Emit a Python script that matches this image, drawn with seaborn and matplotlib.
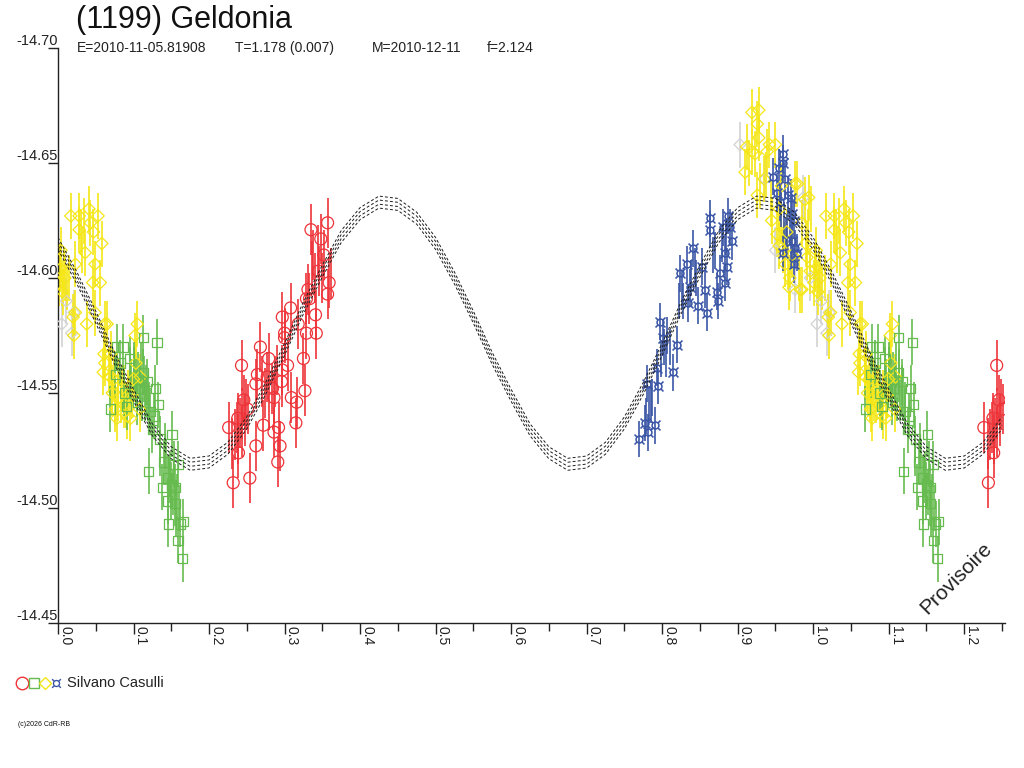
import numpy as np
import pandas as pd
import matplotlib
matplotlib.use("Agg")
import matplotlib.pyplot as plt
import seaborn as sns
from matplotlib.lines import Line2D
from matplotlib.ticker import MultipleLocator, FixedLocator

# =====================================================
# DATA
# =====================================================

# model curve + its uncertainty band
curve_phase = [i * 0.025 for i in range(51)]
curve_mag = [
    -14.615, -14.600, -14.583, -14.565, -14.549, -14.534, -14.524, -14.519, -14.520, -14.526,
    -14.537, -14.552, -14.569, -14.587, -14.603, -14.618, -14.628, -14.633, -14.632, -14.626,
    -14.615, -14.600, -14.583, -14.565, -14.549, -14.534, -14.524, -14.519, -14.520, -14.526,
    -14.537, -14.552, -14.569, -14.587, -14.603, -14.618, -14.628, -14.633, -14.632, -14.626,
    -14.615, -14.600, -14.583, -14.565, -14.549, -14.534, -14.524, -14.519, -14.520, -14.526,
    -14.537,
]
curve_offsets = [-0.0026, -0.0009, 0.0009, 0.0026]

# session 1 : red circles
red_phase = [0.243, 0.232, 0.254, 0.268, 0.264, 0.262, 0.272, 0.279, 0.286, 0.291,
             0.294, 0.292, 0.296, 0.297, 0.300, 0.308, 0.309, 0.315, 0.316, 0.318,
             0.325, 0.327, 0.329, 0.329, 0.331, 0.335, 0.341, 0.342, 0.345, 0.348,
             0.357, 0.359, 0.357, 0.333, 0.304, 0.297, 0.277, 0.262, 0.226, 0.238,
             0.239, 0.246, 0.251, 0.284, 0.286, 0.300, 0.352]
red_mag = [-14.562, -14.511, -14.513, -14.570, -14.558, -14.527, -14.536, -14.565, -14.533, -14.520,
           -14.527, -14.535, -14.555, -14.583, -14.576, -14.587, -14.548, -14.537, -14.546, -14.580,
           -14.565, -14.551, -14.576, -14.591, -14.595, -14.621, -14.584, -14.576, -14.603, -14.617,
           -14.624, -14.598, -14.593, -14.591, -14.562, -14.560, -14.557, -14.554, -14.535, -14.539,
           -14.524, -14.547, -14.543, -14.552, -14.548, -14.574, -14.610]
red_bar_phase = [0.231, 0.234, 0.237, 0.239, 0.241, 0.243, 0.244, 0.247, 0.249, 0.270,
                 0.274, 0.280, 0.288, 0.290, 0.336, 0.338, 0.340, 0.344, 0.350, 0.361]
red_bar_mag = [-14.528, -14.532, -14.535, -14.530, -14.537, -14.541, -14.533, -14.538, -14.545, -14.555,
               -14.550, -14.545, -14.555, -14.560, -14.605, -14.610, -14.600, -14.612, -14.600, -14.602]

# session 2 : green squares
green_phase = [0.131, 0.086, 0.113, 0.082, 0.113, 0.129, 0.133, 0.122, 0.125, 0.135,
               0.151, 0.120, 0.138, 0.145, 0.155, 0.145, 0.155, 0.146, 0.162, 0.166,
               0.159, 0.165, 0.153, 0.159, 0.076, 0.069, 0.091, 0.105, 0.078, 0.095,
               0.108, 0.118, 0.127, 0.140, 0.150, 0.088]
green_mag = [-14.572, -14.570, -14.574, -14.563, -14.559, -14.552, -14.545, -14.542, -14.534, -14.530,
             -14.532, -14.516, -14.509, -14.513, -14.509, -14.503, -14.502, -14.493, -14.493, -14.494,
             -14.486, -14.478, -14.519, -14.519, -14.558, -14.543, -14.544, -14.546, -14.570, -14.565,
             -14.552, -14.555, -14.540, -14.520, -14.510, -14.550]
green_bar_phase = [0.095, 0.097, 0.100, 0.101, 0.103, 0.104, 0.106, 0.109, 0.110, 0.111,
                   0.114, 0.115, 0.117, 0.119, 0.121, 0.135, 0.142, 0.143, 0.147, 0.148,
                   0.149, 0.152, 0.156, 0.157, 0.160]
green_bar_mag = [-14.560, -14.555, -14.560, -14.562, -14.555, -14.550, -14.558, -14.553, -14.562, -14.548,
                 -14.556, -14.548, -14.552, -14.548, -14.545, -14.524, -14.527, -14.520, -14.512, -14.515,
                 -14.505, -14.507, -14.498, -14.505, -14.500]

# session 3 : yellow diamonds
yellow_phase = [0.004, 0.001, 0.003, 0.006, 0.009, 0.017, 0.020, 0.023, 0.023, 0.028,
                0.028, 0.021, 0.036, 0.041, 0.043, 0.047, 0.049, 0.046, 0.053, 0.056,
                0.058, 0.038, 0.049, 0.062, 0.065, 0.061, 0.062, 0.060, 0.069, 0.070,
                0.072, 0.074, 0.076, 0.078, 0.080, 0.085, 0.088, 0.092, 0.096, 0.098,
                0.100, 0.102, 0.105, 0.103, 0.108, 0.109,
                0.912, 0.910, 0.919, 0.919, 0.923, 0.926, 0.928, 0.928, 0.926, 0.935,
                0.939, 0.942, 0.950, 0.952, 0.955, 0.955, 0.960, 0.963, 0.968, 0.969,
                0.976, 0.979, 0.983, 0.985, 0.985, 0.989, 0.992, 0.994, 0.996, 0.945,
                0.958, 0.972, 0.965, 0.990]
yellow_mag = [-14.612, -14.598, -14.604, -14.594, -14.600, -14.627, -14.583, -14.606, -14.585, -14.627,
              -14.621, -14.575, -14.611, -14.630, -14.624, -14.620, -14.606, -14.598, -14.627, -14.598,
              -14.615, -14.580, -14.585, -14.580, -14.580, -14.567, -14.563, -14.559, -14.557, -14.567,
              -14.550, -14.556, -14.543, -14.539, -14.548, -14.552, -14.545, -14.540, -14.539, -14.549,
              -14.556, -14.575, -14.580, -14.563, -14.543, -14.557,
              -14.657, -14.646, -14.655, -14.672, -14.654, -14.667, -14.673, -14.661, -14.636, -14.643,
              -14.655, -14.658, -14.658, -14.619, -14.614, -14.630, -14.612, -14.606, -14.596, -14.600,
              -14.641, -14.641, -14.595, -14.624, -14.595, -14.634, -14.609, -14.635, -14.603, -14.625,
              -14.640, -14.610, -14.620, -14.615]
yellow_bar_phase = [0.002, 0.005, 0.008, 0.012, 0.015, 0.030, 0.032, 0.034, 0.068, 0.071,
                    0.075, 0.079, 0.083, 0.087, 0.090, 0.093, 0.915, 0.930, 0.938, 0.944,
                    0.957, 0.962, 0.966, 0.981, 0.993, 0.997]
yellow_bar_mag = [-14.605, -14.598, -14.603, -14.596, -14.600, -14.620, -14.612, -14.625, -14.560, -14.552,
                  -14.548, -14.555, -14.547, -14.552, -14.545, -14.550, -14.650, -14.640, -14.645, -14.632,
                  -14.625, -14.615, -14.605, -14.600, -14.620, -14.630]

# session 4 : blue crossed squares
blue_phase = [0.781, 0.777, 0.791, 0.780, 0.793, 0.795, 0.815, 0.801, 0.820, 0.797,
              0.833, 0.841, 0.824, 0.837, 0.834, 0.853, 0.857, 0.860, 0.848, 0.864,
              0.864, 0.873, 0.874, 0.877, 0.883, 0.886, 0.883, 0.881, 0.890, 0.892,
              0.887, 0.947, 0.960, 0.960, 0.963, 0.952, 0.956, 0.970, 0.972, 0.972,
              0.976, 0.974, 0.960, 0.967, 0.979, 0.975, 0.770, 0.955]
blue_mag = [-14.533, -14.537, -14.536, -14.554, -14.561, -14.553, -14.559, -14.574, -14.571, -14.581,
            -14.606, -14.613, -14.602, -14.596, -14.589, -14.605, -14.595, -14.585, -14.588, -14.626,
            -14.621, -14.594, -14.590, -14.602, -14.611, -14.605, -14.598, -14.622, -14.622, -14.616,
            -14.627, -14.644, -14.654, -14.650, -14.643, -14.637, -14.633, -14.635, -14.628, -14.616,
            -14.613, -14.606, -14.611, -14.636, -14.611, -14.625, -14.530, -14.648]
blue_bar_phase = [0.779, 0.783, 0.785, 0.787, 0.799, 0.803, 0.805, 0.806, 0.810, 0.822,
                  0.826, 0.828, 0.838, 0.843, 0.845, 0.868, 0.870, 0.879, 0.885, 0.958,
                  0.961, 0.964, 0.965, 0.969, 0.971]
blue_bar_mag = [-14.540, -14.545, -14.545, -14.548, -14.565, -14.570, -14.565, -14.575, -14.570, -14.590,
                -14.595, -14.590, -14.600, -14.605, -14.600, -14.610, -14.612, -14.615, -14.618, -14.630,
                -14.625, -14.618, -14.620, -14.622, -14.612]

# rejected points : light grey diamonds
grey_phase = [0.011, 0.021, 0.018, 0.005, 0.903, 0.936, 0.987, 0.976, 0.950, 0.996]
grey_mag = [-14.590, -14.585, -14.576, -14.580, -14.658, -14.643, -14.635, -14.595, -14.612, -14.600]

# error bar half-lengths per session
red_err = 0.011
green_err = 0.010
yellow_err = 0.010
blue_err = 0.008
grey_err = 0.010

x_max = 1.254

# header texts
title = "(1199) Geldonia"
header_items = ["E=2010-11-05.81908", "T=1.178 (0.007)", "M=2010-12-11", "f=2.124"]
observer = "Silvano Casulli"

# =====================================================
# PLOT
# =====================================================

sns.set_style("white")
plt.rcParams['font.family'] = ['Liberation Sans', 'DejaVu Sans']
plt.rcParams['mathtext.fontset'] = 'dejavusans'

RED, GREEN, YELLOW, BLUE, GREY = "#ee3338", "#66bb4f", "#f5e617", "#3b56a6", "#d2d2d2"


def fold(phase, mag):
    # points of the first quarter are shown again after phase 1.0
    df = pd.DataFrame({"phase": phase, "mag": mag})
    extra = df[df.phase < x_max - 1].copy()
    extra["phase"] = extra["phase"] + 1
    return pd.concat([df, extra], ignore_index=True)


fig = plt.figure(figsize=(10.24, 7.68), dpi=100)
ax = fig.add_axes([58/1024, 1-623/768, (1005-58)/1024, (623-48)/768])

sessions = [
    (grey_phase, grey_mag, [], [], grey_err, GREY, "D", 36, True),
    (yellow_phase, yellow_mag, yellow_bar_phase, yellow_bar_mag, yellow_err, YELLOW, "D", 40, True),
    (green_phase, green_mag, green_bar_phase, green_bar_mag, green_err, GREEN, "s", 44, True),
    (red_phase, red_mag, red_bar_phase, red_bar_mag, red_err, RED, "o", 74, True),
    (blue_phase, blue_mag, blue_bar_phase, blue_bar_mag, blue_err, BLUE, "$¤$", 64, False),
]

for ph, mg, bph, bmg, err, col, mk, size, hollow in sessions:
    pts = fold(ph, mg)
    bars = fold(list(ph) + list(bph), list(mg) + list(bmg))
    ax.errorbar(bars.phase, bars.mag, yerr=err, fmt="none",
                ecolor=col, elinewidth=1.2, capsize=0, zorder=2)
    if hollow:
        sns.scatterplot(data=pts, x="phase", y="mag", marker=mk, s=size,
                        facecolor="none", edgecolor=col, linewidth=0.9,
                        ax=ax, zorder=3, legend=False)
    else:
        sns.scatterplot(data=pts, x="phase", y="mag", marker=mk, s=size,
                        color=col, linewidth=0, ax=ax, zorder=3, legend=False)

for off in curve_offsets:
    sns.lineplot(x=curve_phase, y=np.array(curve_mag) + off, color="#1e1e1e",
                 linewidth=0.7, linestyle=(0, (3, 2.2)), sort=False,
                 estimator=None, ax=ax, zorder=4)

ax.set_xlim(0, x_max)
ax.set_ylim(-14.45, -14.70)
ax.set_xlabel("")
ax.set_ylabel("")

for side in ["top", "right"]:
    ax.spines[side].set_visible(False)
for side in ["left", "bottom"]:
    ax.spines[side].set_color("#222222")
    ax.spines[side].set_linewidth(1.0)

# y ticks : label sits on top of the tick line
ax.yaxis.set_major_locator(FixedLocator([-14.70, -14.65, -14.60, -14.55, -14.50, -14.45]))
ax.set_yticklabels(["-14.70", "-14.65", "-14.60", "-14.55", "-14.50", "-14.45"])
ax.tick_params(axis="y", direction="out", length=7, width=1.0, pad=-7,
               labelsize=10.5, colors="#222222", left=True)
for lbl in ax.get_yticklabels():
    lbl.set_verticalalignment("bottom")

# x ticks : rotated labels right of each major tick
ax.xaxis.set_minor_locator(MultipleLocator(0.05))
ax.set_xticks([i / 10 for i in range(13)])
ax.set_xticklabels([f"{i / 10:.1f}" for i in range(13)])
ax.tick_params(axis="x", which="major", direction="out", length=8, width=1.0,
               pad=-6, labelsize=10, colors="#222222", bottom=True)
ax.tick_params(axis="x", which="minor", direction="out", length=6, width=1.0,
               colors="#222222", bottom=True)
for lbl in ax.get_xticklabels():
    lbl.set_rotation(270)
    lbl.set_horizontalalignment("left")
    lbl.set_verticalalignment("top")

# titles
fig.text(76/1024, 1-20/768, title, fontsize=22, va="center", color="#111111")
for x_px, item in zip([77, 235, 372, 487], header_items):
    fig.text(x_px/1024, 1-48/768, item, fontsize=10, va="center", color="#222222")

# legend : coloured symbols + observer name
legend_y = 1 - 683/768
for x_px, mk, col, ms in [(22, "o", RED, 9), (34, "s", GREEN, 7),
                          (45, "D", YELLOW, 6.5), (56, "$¤$", BLUE, 7)]:
    fig.add_artist(Line2D([x_px/1024], [legend_y], transform=fig.transFigure,
                          marker=mk, markersize=ms, linestyle="none",
                          markerfacecolor="none" if mk != "$¤$" else col,
                          markeredgecolor=col,
                          markeredgewidth=1.0 if mk != "$¤$" else 0))
fig.text(67/1024, legend_y, observer, color="#222222", fontsize=10.5, va="center")

fig.text(18/1024, 1-724/768, "(c)2026 CdR-RB", fontsize=5, va="center", color="#111111")

fig.text(956/1024, 1-578/768, "Provisoire", rotation=45, fontsize=15,
         ha="center", va="center", color="#222222")

fig.savefig("out.png", dpi=100)
plt.close(fig)
